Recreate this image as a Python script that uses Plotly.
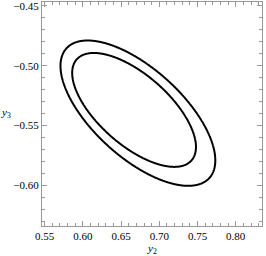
import numpy as np
import plotly.graph_objects as go

# Ellipse (Gaussian contour) parameters
ellipse_names = ["outer", "inner"]
center_y2 = [0.672, 0.667]
center_y3 = [-0.5396, -0.5369]
sigma_y2 = [0.1013, 0.0810]
sigma_y3 = [0.0606, 0.0475]
correlation = [-0.65, -0.65]

x_range = [0.5465, 0.8344]
y_range = [-0.6337, -0.4469]
x_ticks = [0.55, 0.60, 0.65, 0.70, 0.75, 0.80]
y_ticks = [-0.60, -0.55, -0.50, -0.45]

gx = np.linspace(x_range[0], x_range[1], 400)
gy = np.linspace(y_range[0], y_range[1], 400)
X, Y = np.meshgrid(gx, gy)

fig = go.Figure()
for name, cx, cy, sx, sy, r in zip(ellipse_names, center_y2, center_y3, sigma_y2, sigma_y3, correlation):
    dx = (X - cx) / sx
    dy = (Y - cy) / sy
    chi2 = (dx**2 - 2 * r * dx * dy + dy**2) / (1 - r**2)
    fig.add_trace(go.Contour(
        x=gx, y=gy, z=chi2, name=name,
        contours=dict(start=1, end=1, size=1, coloring="none"),
        line=dict(color="black", width=2, smoothing=1),
        showscale=False, hoverinfo="skip",
    ))

serif = "Liberation Serif, Times New Roman, serif"
axis_common = dict(
    showgrid=False, zeroline=False, showline=True, linecolor="#999999", linewidth=1,
    mirror="ticks", ticks="inside", ticklen=5, tickcolor="#999999", tickwidth=1,
    tickfont=dict(family=serif, size=11, color="black"),
    ticklabeloverflow="allow", automargin=False,
    minor=dict(ticks="inside", ticklen=3, tickcolor="#999999", dtick=0.01),
)

fig.update_layout(
    template="none",
    width=266, height=256,
    margin=dict(l=42, r=4, t=2, b=30, autoexpand=False),
    paper_bgcolor="white", plot_bgcolor="white",
    showlegend=False,
    xaxis=dict(range=x_range, tickvals=x_ticks, tickformat=".2f", **axis_common),
    yaxis=dict(range=y_range, tickvals=y_ticks, tickformat=".2f", **axis_common),
    annotations=[
        dict(text="<i>y</i><sub>2</sub>", xref="paper", yref="paper", x=0.5, y=-0.062,
             showarrow=False, xanchor="center", yanchor="top",
             font=dict(family=serif, size=11, color="black")),
        dict(text="<i>y</i><sub>3</sub>", xref="paper", yref="paper", x=-0.165, y=0.505,
             showarrow=False, xanchor="center", yanchor="middle",
             font=dict(family=serif, size=11, color="black")),
    ],
)

fig.write_html("out.html", config={"displayModeBar": False},
               post_script="document.body.style.margin='0';document.body.style.padding='0';")
